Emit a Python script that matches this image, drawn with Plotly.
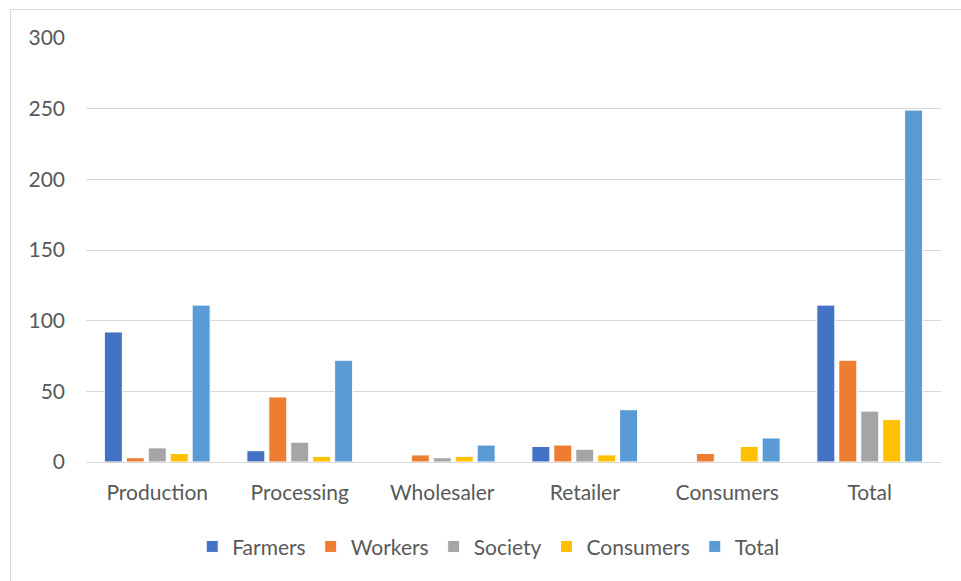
import plotly.graph_objects as go

categories = ["Production", "Processing", "Wholesaler", "Retailer", "Consumers", "Total"]
farmers = [92, 8, 0, 11, 0, 111]
workers = [3, 46, 5, 12, 6, 72]
society = [10, 14, 3, 9, 0, 36]
consumers = [6, 4, 4, 5, 11, 30]
total = [111, 72, 12, 37, 17, 249]

series_names = ["Farmers", "Workers", "Society", "Consumers", "Total"]
series_values = [farmers, workers, society, consumers, total]
colors = ["#4472C4", "#ED7D31", "#A5A5A5", "#FFC000", "#5B9BD5"]
y_ticks = [0, 50, 100, 150, 200, 250, 300]

fig = go.Figure()
for name, vals, col in zip(series_names, series_values, colors):
    fig.add_trace(go.Bar(
        name=name, x=categories, y=vals,
        marker=dict(color=col, line=dict(color="white", width=1)),
    ))

font_family = "Lato, 'Open Sans', sans-serif"
fs = 21
fig.update_layout(
    width=961, height=581,
    margin=dict(l=86, r=20, t=38, b=119),
    paper_bgcolor="white", plot_bgcolor="white",
    barmode="group", bargap=0.23, bargroupgap=0.18,
    font=dict(family=font_family, size=fs, color="#595959"),
    showlegend=True,
    legend=dict(orientation="h", x=0.471, xanchor="center", y=-0.2, yanchor="middle",
                font=dict(size=fs, color="#595959"), traceorder="normal",
                itemwidth=30, tracegroupgap=0),
    xaxis=dict(showgrid=False, showline=False, ticks="", zeroline=False,
               ticklabelstandoff=16,
               tickfont=dict(size=fs, color="#595959")),
    yaxis=dict(range=[0, 300], tickvals=y_ticks, showgrid=True, gridcolor="#D9D9D9",
               gridwidth=1, zeroline=True, zerolinecolor="#D9D9D9", zerolinewidth=1,
               showline=False, ticks="", ticklabelstandoff=20,
               tickfont=dict(size=fs, color="#595959")),
)

# outer chart frame (top and left visible)
fig.add_shape(type="line", xref="paper", yref="paper",
              x0=(10 - 86) / 855, x1=1.05, y0=(462 - 9.5) / 424, y1=(462 - 9.5) / 424,
              line=dict(color="#D9D9D9", width=1))
fig.add_shape(type="line", xref="paper", yref="paper",
              x0=(10.5 - 86) / 855, x1=(10.5 - 86) / 855, y0=(462 - 9.5) / 424, y1=-0.35,
              line=dict(color="#D9D9D9", width=1))

fig.write_html("out.html")
